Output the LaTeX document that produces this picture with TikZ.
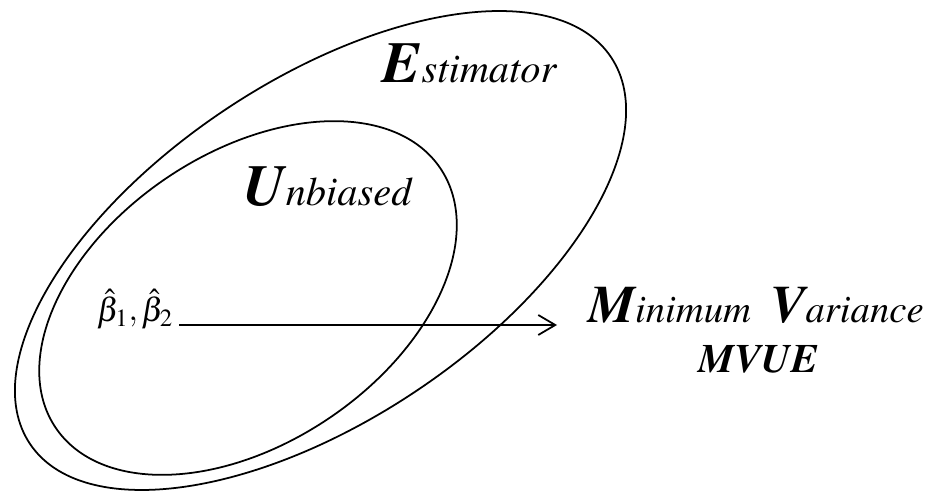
\documentclass[tikz,border=0pt]{standalone}
\usepackage[T1]{fontenc}
\usepackage{mathptmx}
\usetikzlibrary{arrows.meta}
\newcommand{\initiale}[2][33]{{\fontsize{#1}{36}\selectfont\bfseries\itshape #2}}
\begin{document}
\begin{tikzpicture}[line width=1pt,
  mot/.style={inner sep=0pt, anchor=base west, font=\fontsize{23}{26}\selectfont\itshape}]
  \useasboundingbox (0,0) rectangle (18.62,9.84);
  % Ensemble des estimateurs
  \draw[rotate around={33.6:(6.41,4.83)}] (6.41,4.83) ellipse (6.98 and 3.40);
  % Estimateurs sans biais
  \draw[rotate around={34:(4.96,3.88)}] (4.96,3.88) ellipse (4.64 and 2.90);

  % Textes
  \node[mot] (estim) at (7.64,8.18) {\initiale{E}stimator};
  \node[mot] (unbias) at (4.86,5.72) {\initiale{U}nbiased};
  \node[mot, anchor=base, font=\fontsize{22}{26}\selectfont\itshape] (minvar) at (15.12,3.40)
    {\initiale[30]{M}inimum\ \ \initiale[30]{V}ariance};
  \node[mot, anchor=base, font=\fontsize{23}{26}\selectfont\bfseries\itshape] (mvue) at (15.17,2.40) {MVUE};

  % Fleche vers le MVUE
  \node[inner sep=0pt, anchor=base, font=\fontsize{19}{22}\selectfont] (beta) at (2.70,3.42) {$\hat{\beta}_1,\hat{\beta}_2$};
  \coordinate (tip) at (11.14,3.34);
  \draw[-{Straight Barb[length=3.4mm,width=4mm]}] ([xshift=3pt]beta.east |- tip) -- (tip);
\end{tikzpicture}
\end{document}
